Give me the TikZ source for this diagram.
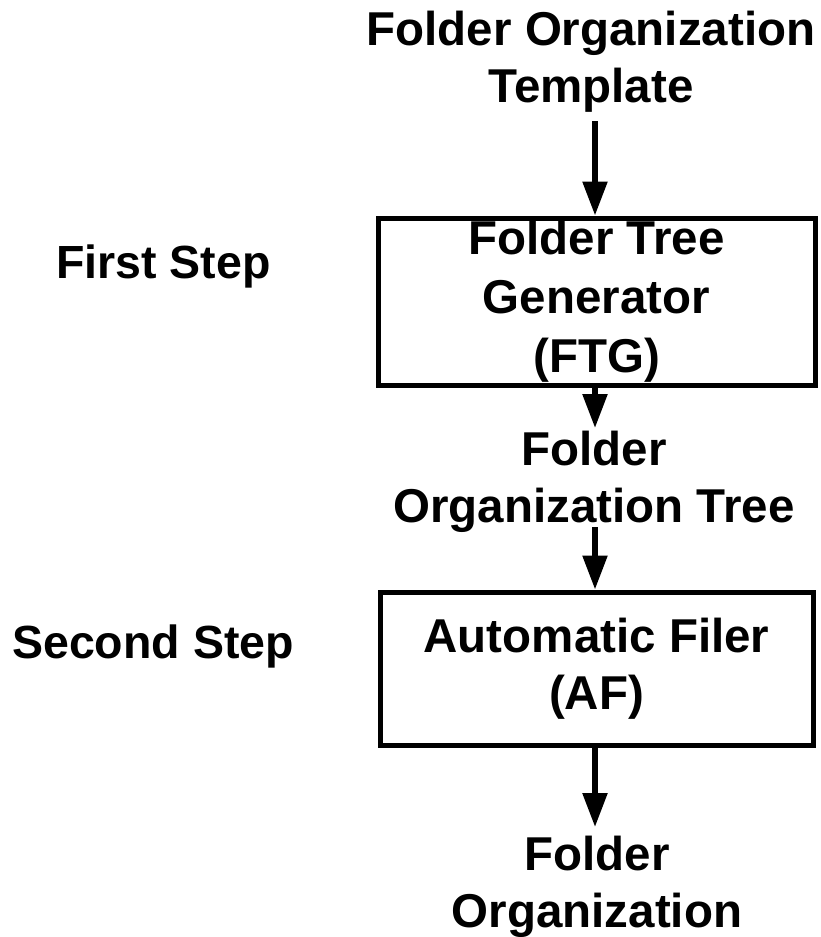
\documentclass[tikz,border=0pt]{standalone}
\usepackage{fontspec}
\setmainfont{Liberation Sans}
\usetikzlibrary{arrows.meta}
\newcommand{\lsT}{\rule[-19pt]{0pt}{56pt}}
\newcommand{\lsB}{\rule[-12pt]{0pt}{48pt}}
\begin{document}
\begin{tikzpicture}[x=1pt,y=-1pt,
  lbl/.style={font=\fontsize{47.5}{57}\selectfont\bfseries, inner sep=0pt, outer sep=0pt, align=center},
  sidelbl/.style={font=\fontsize{46.5}{57}\selectfont\bfseries, inner sep=0pt, outer sep=0pt},
  boxnode/.style={draw, line width=5pt, inner sep=0pt, align=center, font=\fontsize{47.5}{59}\selectfont\bfseries},
  arr/.style={line width=5.5pt, -{Triangle[width=24pt,length=34pt]}}]
\useasboundingbox (0,0) rectangle (820,937);
\coordinate (axis) at (595,0);
\node[lbl, anchor=north] (tmpl) at (591,8) {\lsT Folder Organization\\\lsT Template};
\node[boxnode, minimum width=437pt, minimum height=167pt] (ftg) at (596.5,301.5) {\lsB Folder Tree\\\lsB Generator\\\lsB (FTG)};
\node[lbl, anchor=north] (mid) at (594,428) {\lsT Folder\\\lsT Organization Tree};
\node[boxnode, font=\fontsize{47.5}{57}\selectfont\bfseries, minimum width=433pt, minimum height=153pt] (af) at (596.5,668.5) {\lsB Automatic Filer\\\lsB (AF)};
\node[lbl, anchor=north] (out) at (597,833) {\lsT Folder\\\lsT Organization};
\node[sidelbl, anchor=base] (s1) at (163.5,278) {First Step};
\node[sidelbl, anchor=base] (s2) at (153,658) {Second Step};
\draw[arr] (tmpl.south -| axis) -- (ftg.north -| axis);
\draw[arr] (ftg.south -| axis) -- (mid.north -| axis);
\draw[arr] ([yshift=14pt]mid.south -| axis) -- (af.north -| axis);
\draw[arr] (af.south -| axis) -- ([yshift=6pt]out.north -| axis);
\end{tikzpicture}
\end{document}
